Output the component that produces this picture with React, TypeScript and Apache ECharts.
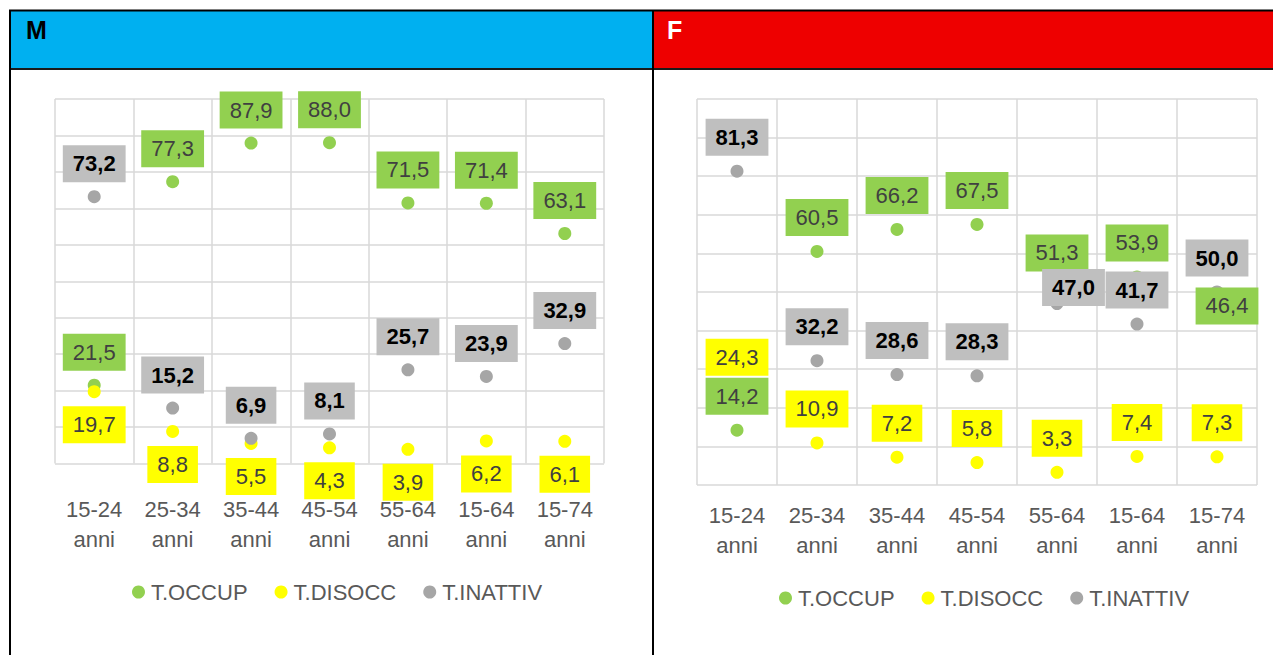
import React, { useEffect, useRef } from "react";
import * as echarts from "echarts";

const categories = ["15-24 anni", "25-34 anni", "35-44 anni", "45-54 anni", "55-64 anni", "15-64 anni", "15-74 anni"];
const seriesNames = ["T.OCCUP", "T.DISOCC", "T.INATTIV"];

const mOccup = [21.5, 77.3, 87.9, 88.0, 71.5, 71.4, 63.1];
const mDisocc = [19.7, 8.8, 5.5, 4.3, 3.9, 6.2, 6.1];
const mInattiv = [73.2, 15.2, 6.9, 8.1, 25.7, 23.9, 32.9];

const fOccup = [14.2, 60.5, 66.2, 67.5, 51.3, 53.9, 46.4];
const fDisocc = [24.3, 10.9, 7.2, 5.8, 3.3, 7.4, 7.3];
const fInattiv = [81.3, 32.2, 28.6, 28.3, 47.0, 41.7, 50.0];

const panelTitles = ["M", "F"];

// label offset overrides (manually moved labels in F panel)
const fLabelOverrides: Record<string, Record<number, number[]>> = {
  "T.OCCUP": { 6: [10, 0] },
  "T.INATTIV": { 4: [16.5, -16] },
};

const FONT = '"Liberation Sans", Arial, sans-serif';
const colors = ["#92D050", "#FFFF00", "#A6A6A6"];
const labelBg = ["#92D050", "#FFFF00", "#BFBFBF"];

function fmt(v: number) {
  return v.toFixed(1).replace(".", ",");
}

function makeSeries(
  name: string,
  idx: number,
  values: number[],
  axis: number,
  offY: number,
  overrides?: Record<number, number[]>
) {
  return {
    type: "scatter",
    name,
    xAxisIndex: axis,
    yAxisIndex: axis,
    symbol: "circle",
    symbolSize: 13,
    itemStyle: { color: colors[idx], opacity: 1 },
    label: {
      show: true,
      position: "inside",
      offset: [0, offY],
      formatter: (p: any) => fmt(p.value as number),
      fontFamily: FONT,
      fontSize: 22,
      lineHeight: 22,
      color: idx === 2 ? "#000000" : "#404040",
      fontWeight: idx === 2 ? "bold" : "normal",
      backgroundColor: labelBg[idx],
      padding: [7.5, 10],
    },
    data: values.map((v, i) => {
      const o = overrides && overrides[i];
      return o ? { value: v, label: { offset: o } } : { value: v };
    }),
  };
}

export default function App() {
  const ref = useRef<HTMLDivElement>(null);
  useEffect(() => {
    if (!ref.current) return;
    const chart = echarts.init(ref.current, null, { renderer: "svg" });

    const xAxisBase = {
      type: "category",
      data: categories,
      boundaryGap: true,
      axisLine: { show: false },
      axisTick: { show: false },
      splitLine: { show: true, lineStyle: { color: "#D9D9D9", width: 1.5 } },
      axisLabel: {
        formatter: (v: string) => v.replace(" ", "\n"),
        fontFamily: FONT,
        fontSize: 22,
        lineHeight: 30,
        color: "#595959",
        interval: 0,
      },
    };
    const yAxisBase = {
      type: "value",
      min: 0,
      max: 100,
      interval: 10,
      axisLine: { show: false },
      axisTick: { show: false },
      axisLabel: { show: false },
      splitLine: { show: true, lineStyle: { color: "#D9D9D9", width: 1.5 } },
    };

    const legendBase = {
      data: seriesNames,
      icon: "circle",
      itemWidth: 13,
      itemHeight: 13,
      itemGap: 27,
      orient: "horizontal",
      textStyle: { fontFamily: FONT, fontSize: 22, color: "#595959", padding: [0, 0, 0, 1] },
    };

    const option: any = {
      animation: false,
      backgroundColor: "#FFFFFF",
      grid: [
        { left: 55, top: 99, width: 549, height: 364.5 },
        { left: 697, top: 99, width: 560, height: 386 },
      ],
      xAxis: [
        { ...xAxisBase, gridIndex: 0, axisLabel: { ...xAxisBase.axisLabel, margin: 31 } },
        { ...xAxisBase, gridIndex: 1, axisLabel: { ...xAxisBase.axisLabel, margin: 15 } },
      ],
      yAxis: [
        { ...yAxisBase, gridIndex: 0 },
        { ...yAxisBase, gridIndex: 1 },
      ],
      legend: [
        { ...legendBase, left: 127, top: 576 },
        { ...legendBase, left: 774, top: 582 },
      ],
      series: [
        makeSeries(seriesNames[0], 0, mOccup, 0, -33),
        makeSeries(seriesNames[1], 1, mDisocc, 0, 33),
        makeSeries(seriesNames[2], 2, mInattiv, 0, -33),
        makeSeries(seriesNames[0], 0, fOccup, 1, -34, fLabelOverrides["T.OCCUP"]),
        makeSeries(seriesNames[1], 1, fDisocc, 1, -34),
        makeSeries(seriesNames[2], 2, fInattiv, 1, -34, fLabelOverrides["T.INATTIV"]),
      ],
      graphic: [
        { type: "rect", shape: { x: 10, y: 10, width: 643, height: 59 }, style: { fill: "#00B0F0" }, z: 10 },
        { type: "rect", shape: { x: 653, y: 10, width: 620, height: 59 }, style: { fill: "#EE0000" }, z: 10 },
        {
          type: "text",
          x: 26,
          y: 17,
          style: { text: panelTitles[0], font: `bold 25px ${FONT}`, fill: "#000000" },
          z: 11,
        },
        {
          type: "text",
          x: 667,
          y: 17,
          style: { text: panelTitles[1], font: `bold 25px ${FONT}`, fill: "#FFFFFF" },
          z: 11,
        },
        { type: "line", shape: { x1: 9, y1: 10.5, x2: 1273, y2: 10.5 }, style: { stroke: "#000000", lineWidth: 2 }, z: 12 },
        { type: "line", shape: { x1: 9, y1: 69, x2: 1273, y2: 69 }, style: { stroke: "#1A1A1A", lineWidth: 2 }, z: 12 },
        { type: "line", shape: { x1: 10, y1: 10, x2: 10, y2: 655 }, style: { stroke: "#000000", lineWidth: 2 }, z: 12 },
        { type: "line", shape: { x1: 653, y1: 10, x2: 653, y2: 655 }, style: { stroke: "#000000", lineWidth: 2 }, z: 12 },
      ],
    };
    chart.setOption(option);
    return () => chart.dispose();
  }, []);
  return (
    <div
      ref={ref}
      style={{ position: "fixed", left: 0, top: 0, width: 1273, height: 655, background: "#fff" }}
    />
  );
}
